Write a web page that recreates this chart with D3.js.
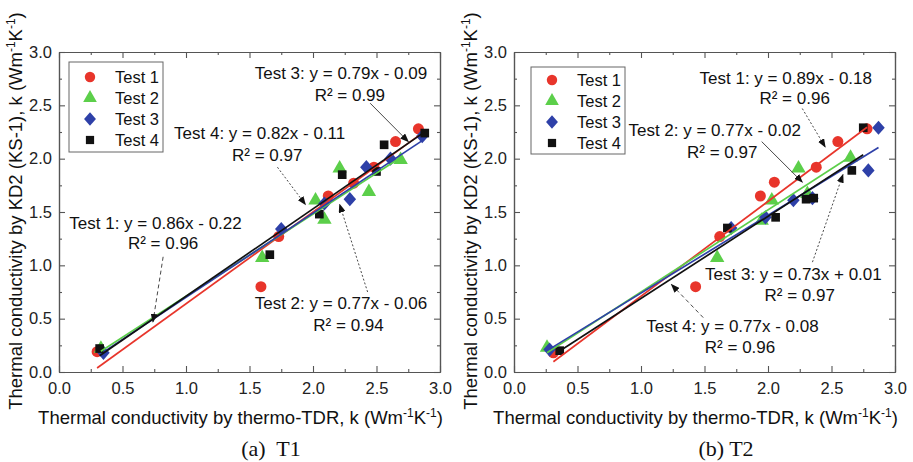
<!DOCTYPE html>
<html>
<head>
<meta charset="utf-8">
<script src="https://cdn.jsdelivr.net/npm/d3@7"></script>
<style>
  body { margin: 0; background: #fff; }
  svg { display: block; font-family: "Liberation Sans", Arial, sans-serif; }
</style>
</head>
<body>
<script>
// ---- data ----
const seriesNames = ["Test 1", "Test 2", "Test 3", "Test 4"];
const axisTicks = [0, 0.5, 1.0, 1.5, 2.0, 2.5, 3.0];
const minorTicks = [0.25, 0.75, 1.25, 1.75, 2.25, 2.75];

// (a) T1
const t1Test1 = [[0.30, 0.19], [1.59, 0.80], [1.73, 1.27], [2.12, 1.65], [2.32, 1.77], [2.48, 1.92], [2.65, 2.16], [2.83, 2.28]];
const t1Test2 = [[0.33, 0.22], [1.60, 1.07], [2.02, 1.61], [2.09, 1.43], [2.21, 1.91], [2.44, 1.69], [2.69, 1.99]];
const t1Test3 = [[0.35, 0.18], [1.75, 1.34], [2.09, 1.58], [2.29, 1.62], [2.42, 1.92], [2.61, 2.00], [2.86, 2.21]];
const t1Test4 = [[0.32, 0.22], [1.66, 1.10], [2.05, 1.48], [2.23, 1.85], [2.50, 1.88], [2.56, 2.13], [2.88, 2.24]];
const t1Slopes = [0.86, 0.77, 0.79, 0.82];
const t1Intercepts = [-0.22, -0.06, -0.09, -0.11];
const t1R2 = [0.96, 0.94, 0.99, 0.97];

// (b) T2
const t2Test1 = [[0.31, 0.18], [1.43, 0.80], [1.62, 1.27], [1.94, 1.65], [2.05, 1.78], [2.38, 1.92], [2.55, 2.16], [2.78, 2.28]];
const t2Test2 = [[0.26, 0.23], [1.60, 1.07], [1.95, 1.42], [2.03, 1.61], [2.24, 1.91], [2.31, 1.67], [2.65, 2.01]];
const t2Test3 = [[0.28, 0.21], [1.71, 1.35], [1.98, 1.45], [2.20, 1.61], [2.35, 1.63], [2.79, 1.89], [2.87, 2.29]];
const t2Test4 = [[0.36, 0.20], [1.68, 1.35], [2.06, 1.45], [2.30, 1.62], [2.36, 1.63], [2.66, 1.89], [2.75, 2.29]];
const t2Slopes = [0.89, 0.77, 0.73, 0.77];
const t2Intercepts = [-0.18, -0.02, 0.01, -0.08];
const t2R2 = [0.96, 0.97, 0.97, 0.96];

// where each equation label sits (data units): [eqX, eqY, r2X, r2Y, arrowFromX, arrowFromY, arrowToX, arrowToY]
const t1Labels = [
  [0.76, 1.40, 0.82, 1.21, 0.82, 1.08, 0.74, 0.47],
  [2.22, 0.65, 2.28, 0.44, 2.43, 0.75, 2.21, 1.57],
  [2.22, 2.80, 2.29, 2.60, 2.45, 2.52, 2.75, 2.16],
  [1.58, 2.24, 1.64, 2.03, 1.72, 1.92, 1.94, 1.57]
];
const t2Labels = [
  [2.14, 2.76, 2.21, 2.57, 2.27, 2.47, 2.45, 2.11],
  [1.58, 2.27, 1.64, 2.06, 1.95, 2.16, 2.27, 1.78],
  [2.20, 0.92, 2.25, 0.72, 2.35, 1.03, 2.59, 1.85],
  [1.72, 0.43, 1.78, 0.23, 1.49, 0.51, 1.24, 0.82]
];
const t1Dash = ["4,3", "2,2", null, "2,2"];
const t2Dash = ["2,2", null, "2,2", "4,3"];

const colors = ["#e8352b", "#5ccf4a", "#2e40a8", "#111111"];
const shapes = [d3.symbolCircle, d3.symbolTriangle, d3.symbolDiamond, d3.symbolSquare];
const shapeSizes = [95, 90, 80, 75];
const shapeScale = ["", "", " scale(1.3,0.85)", ""];

const W = 913, H = 462;
const svg = d3.select("body").append("svg").attr("width", W).attr("height", H);

svg.append("defs").append("marker")
  .attr("id", "arrow")
  .attr("markerUnits", "userSpaceOnUse")
  .attr("markerWidth", 9).attr("markerHeight", 7)
  .attr("refX", 8).attr("refY", 3.5)
  .attr("orient", "auto")
  .append("path").attr("d", "M0,0 L9,3.5 L0,7 Z").attr("fill", "#111");

const panels = [
  { left: 59, caption: "(a)  T1", series: [t1Test1, t1Test2, t1Test3, t1Test4], slopes: t1Slopes, intercepts: t1Intercepts, r2: t1R2, labels: t1Labels, dash: t1Dash,
    legend: { x: 69, y: 62, w: 94, h: 90, mx: 21, tx: 46, row0: 15, step: 21 } },
  { left: 514, caption: "(b) T2", series: [t2Test1, t2Test2, t2Test3, t2Test4], slopes: t2Slopes, intercepts: t2Intercepts, r2: t2R2, labels: t2Labels, dash: t2Dash,
    legend: { x: 531, y: 67, w: 94, h: 87, mx: 21, tx: 46, row0: 13, step: 21 } }
];

const plotTop = 52, plotW = 381, plotH = 320;
const fmt = d3.format(".2f");
const fmt1 = d3.format(".1f");

function styleAxis(sel) {
  sel.selectAll(".domain").attr("stroke", "#555").attr("stroke-width", 1.2);
  sel.selectAll(".tick line").attr("stroke", "#555").attr("stroke-width", 1.1);
  sel.selectAll(".tick text").attr("fill", "#222").style("font-size", "16.5px")
    .style("font-family", "'Liberation Sans', Arial, sans-serif");
}

panels.forEach(p => {
  const g = svg.append("g").attr("transform", `translate(${p.left},${plotTop})`);
  const x = d3.scaleLinear().domain([0, 3]).range([0, plotW]);
  const y = d3.scaleLinear().domain([0, 3]).range([plotH, 0]);

  // frame + inward ticks on all four sides
  g.append("g").attr("transform", `translate(0,${plotH})`)
    .call(d3.axisBottom(x).tickValues(axisTicks).tickFormat(fmt1).tickSize(-6).tickSizeOuter(0).tickPadding(10)).call(styleAxis);
  g.append("g")
    .call(d3.axisLeft(y).tickValues(axisTicks).tickFormat(fmt1).tickSize(-6).tickSizeOuter(0).tickPadding(7)).call(styleAxis);
  g.append("g")
    .call(d3.axisTop(x).tickValues(axisTicks).tickFormat("").tickSize(-6).tickSizeOuter(0)).call(styleAxis);
  g.append("g").attr("transform", `translate(${plotW},0)`)
    .call(d3.axisRight(y).tickValues(axisTicks).tickFormat("").tickSize(-6).tickSizeOuter(0)).call(styleAxis);
  // minor ticks
  g.append("g").attr("transform", `translate(0,${plotH})`)
    .call(d3.axisBottom(x).tickValues(minorTicks).tickFormat("").tickSize(-3).tickSizeOuter(0)).call(styleAxis);
  g.append("g")
    .call(d3.axisLeft(y).tickValues(minorTicks).tickFormat("").tickSize(-3).tickSizeOuter(0)).call(styleAxis);
  g.append("g")
    .call(d3.axisTop(x).tickValues(minorTicks).tickFormat("").tickSize(-3).tickSizeOuter(0)).call(styleAxis);
  g.append("g").attr("transform", `translate(${plotW},0)`)
    .call(d3.axisRight(y).tickValues(minorTicks).tickFormat("").tickSize(-3).tickSizeOuter(0)).call(styleAxis);

  // markers
  p.series.forEach((pts, i) => {
    g.append("g").selectAll("path").data(pts).join("path")
      .attr("transform", d => `translate(${x(d[0])},${y(d[1])})` + shapeScale[i])
      .attr("d", d3.symbol().type(shapes[i]).size(shapeSizes[i]))
      .attr("fill", colors[i]);
  });

  // fitted lines over each series' x range
  p.series.forEach((pts, i) => {
    const ext = d3.extent(pts, d => d[0]);
    const fit = ext.map(v => [v, p.slopes[i] * v + p.intercepts[i]]);
    g.append("path").datum(fit)
      .attr("d", d3.line().x(d => x(d[0])).y(d => y(d[1])))
      .attr("fill", "none").attr("stroke", colors[i]).attr("stroke-width", 1.7);
  });

  // equation labels and arrows
  p.labels.forEach((l, i) => {
    const b = p.intercepts[i];
    const eq = `${seriesNames[i]}: y = ${p.slopes[i].toFixed(2)}x ${b < 0 ? "-" : "+"} ${Math.abs(b).toFixed(2)}`;
    g.append("text").attr("x", x(l[0])).attr("y", y(l[1])).attr("dy", "0.35em")
      .attr("text-anchor", "middle").style("font-size", "17px").attr("fill", "#111").text(eq);
    g.append("text").attr("x", x(l[2])).attr("y", y(l[3])).attr("dy", "0.35em")
      .attr("text-anchor", "middle").style("font-size", "17px").attr("fill", "#111").text(`R² = ${fmt(p.r2[i])}`);
    g.append("line")
      .attr("x1", x(l[4])).attr("y1", y(l[5])).attr("x2", x(l[6])).attr("y2", y(l[7]))
      .attr("stroke", "#333").attr("stroke-width", 0.9)
      .attr("stroke-dasharray", p.dash[i])
      .attr("marker-end", "url(#arrow)");
  });

  // legend
  const L = p.legend;
  const lg = svg.append("g").attr("transform", `translate(${L.x},${L.y})`);
  lg.append("rect").attr("width", L.w).attr("height", L.h)
    .attr("fill", "#fff").attr("stroke", "#666").attr("stroke-width", 1);
  seriesNames.forEach((name, i) => {
    const yy = L.row0 + i * L.step;
    lg.append("path").attr("transform", `translate(${L.mx},${yy})` + shapeScale[i])
      .attr("d", d3.symbol().type(shapes[i]).size(shapeSizes[i] * 0.9)).attr("fill", colors[i]);
    lg.append("text").attr("x", L.tx).attr("y", yy).attr("dy", "0.35em")
      .style("font-size", "16.5px").attr("fill", "#111").text(name);
  });

  // axis titles
  const xt = svg.append("text").attr("x", p.left + plotW / 2 - 9).attr("y", 424)
    .attr("text-anchor", "middle").style("font-size", "18.5px").attr("fill", "#111");
  xt.append("tspan").text("Thermal conductivity by thermo-TDR, k (Wm");
  xt.append("tspan").attr("dy", -7).style("font-size", "12px").text("-1");
  xt.append("tspan").attr("dy", 7).text("K");
  xt.append("tspan").attr("dy", -7).style("font-size", "12px").text("-1");
  xt.append("tspan").attr("dy", 7).text(")");

  const yt = svg.append("text")
    .attr("transform", `translate(${p.left - 37},${plotTop + plotH / 2 - 1}) rotate(-90)`)
    .attr("text-anchor", "middle").style("font-size", "18.5px").attr("fill", "#111");
  yt.append("tspan").text("Thermal conductivity by KD2 (KS-1), k (Wm");
  yt.append("tspan").attr("dy", -7).style("font-size", "12px").text("-1");
  yt.append("tspan").attr("dy", 7).text("K");
  yt.append("tspan").attr("dy", -7).style("font-size", "12px").text("-1");
  yt.append("tspan").attr("dy", 7).text(")");

  svg.append("text").attr("x", p.left + 212).attr("y", 456)
    .attr("text-anchor", "middle").style("font-family", "'Liberation Serif', 'Times New Roman', serif")
    .style("font-size", "22px").attr("fill", "#111").style("white-space", "pre")
    .text(p.caption);
});
</script>
</body>
</html>
